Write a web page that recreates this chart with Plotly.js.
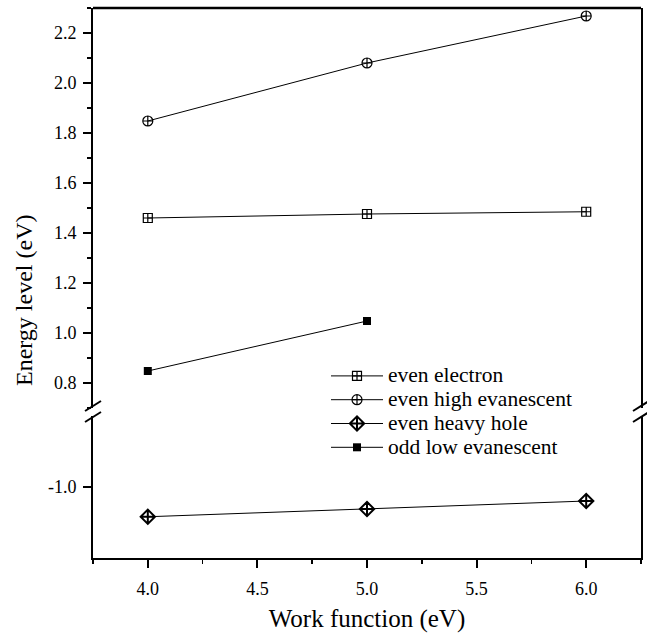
<!DOCTYPE html>
<html>
<head>
<meta charset="utf-8">
<script src="https://cdn.plot.ly/plotly-3.0.1.min.js"></script>
<style>
html,body{margin:0;padding:0;background:#fff;}
#chart{width:647px;height:641px;}
#chart .legendtext{font-size:21.5px !important;}
#chart .legend, #chart .legend *{clip-path:none !important;}
</style>
</head>
<body>
<div id="chart"></div>
<script>
// Data
const workFunction = [4.0, 5.0, 6.0];
const evenElectron = [1.46, 1.476, 1.485];
const evenHighEvanescent = [1.848, 2.08, 2.268];
const evenHeavyHole = [-1.119, -1.088, -1.056];
const oddLowWorkFunction = [4.0, 5.0];
const oddLowEvanescent = [0.848, 1.048];
const upperTicks = [0.8, 1.0, 1.2, 1.4, 1.6, 1.8, 2.0, 2.2];
const lowerTicks = [-1.0];
const xTicks = [4.0, 4.5, 5.0, 5.5, 6.0];

const font = 'Liberation Serif';
const mk = (sym, size, w) => ({symbol: sym, size: size, color: 'black', line: {color: 'black', width: w}});

const traces = [
  {x: workFunction, y: evenElectron, name: 'even electron', mode: 'lines+markers', yaxis: 'y2',
   line: {color: 'black', width: 1}, marker: mk('square-cross-open', 9, 1.2)},
  {x: workFunction, y: evenHighEvanescent, name: 'even high evanescent', mode: 'lines+markers', yaxis: 'y2',
   line: {color: 'black', width: 1}, marker: mk('circle-cross-open', 10, 1.2)},
  {x: workFunction, y: evenHeavyHole, name: 'even heavy hole', mode: 'lines+markers', yaxis: 'y',
   line: {color: 'black', width: 1}, marker: mk('diamond-cross-open', 11, 2)},
  {x: oddLowWorkFunction, y: oddLowEvanescent, name: 'odd low evanescent', mode: 'lines+markers', yaxis: 'y2',
   line: {color: 'black', width: 1}, marker: {symbol: 'square', size: 8, color: 'black'}}
];

// pixel helpers (plot area: x 93..641, y 8..558)
const py = p => (558 - p) / 550;
const px = p => (p - 93) / 548;
const slash = (xc, yc) => ({type: 'line', xref: 'paper', yref: 'paper',
  x0: px(xc - 8), y0: py(yc + 5), x1: px(xc + 8), y1: py(yc - 5), line: {color: 'black', width: 2}});

const layout = {
  width: 647, height: 641,
  margin: {l: 93, r: 6, t: 8, b: 83},
  paper_bgcolor: 'white', plot_bgcolor: 'white',
  showlegend: true,
  font: {family: font, color: 'black', size: 18},
  xaxis: {
    range: [3.75, 6.25], tickvals: xTicks, ticktext: xTicks.map(v => v.toFixed(1)),
    ticks: 'outside', ticklen: 8, tickwidth: 2, tickcolor: 'black', ticklabelstandoff: 5,
    minor: {dtick: 0.25, tick0: 0, ticks: 'outside', ticklen: 4, tickwidth: 1.5, tickcolor: 'black'},
    showline: true, linewidth: 2, linecolor: 'black', showgrid: false, zeroline: false,
    anchor: 'y', tickfont: {size: 18, family: font},
    title: {text: 'Work function (eV)', font: {size: 25, family: font}, standoff: 12}
  },
  yaxis: {
    domain: [0, py(416)], range: [-1.284, -0.716],
    tickvals: lowerTicks, ticktext: ['-1.0'],
    ticks: 'outside', ticklen: 8, tickwidth: 2, tickcolor: 'black', ticklabelstandoff: 3,
    showline: true, mirror: true, linewidth: 2, linecolor: 'black', showgrid: false, zeroline: false,
    tickfont: {size: 18, family: font}
  },
  yaxis2: {
    domain: [py(408), 1], range: [0.7, 2.3],
    tickvals: upperTicks, ticktext: upperTicks.map(v => v.toFixed(1)),
    ticks: 'outside', ticklen: 8, tickwidth: 2, tickcolor: 'black', ticklabelstandoff: 3,
    minor: {dtick: 0.1, tick0: 0, ticks: 'outside', ticklen: 4, tickwidth: 1.5, tickcolor: 'black'},
    showline: true, mirror: true, linewidth: 2, linecolor: 'black', showgrid: false, zeroline: false,
    anchor: 'x', tickfont: {size: 18, family: font}
  },
  legend: {
    x: px(326), y: py(359), xanchor: 'left', yanchor: 'top',
    bgcolor: 'rgba(0,0,0,0)', borderwidth: 0,
    font: {size: 16, family: font}, itemwidth: 52, tracegroupgap: 0
  },
  shapes: [
    {type: 'line', xref: 'paper', yref: 'paper', x0: 0, x1: 1, y0: 1, y1: 1, line: {color: 'black', width: 2.5}},
    slash(93, 406), slash(93, 417), slash(641, 406), slash(641, 417)
  ],
  annotations: [
    {text: 'Energy level (eV)', textangle: -90, xref: 'paper', yref: 'paper',
     x: px(24), y: py(301), xanchor: 'center', yanchor: 'middle', showarrow: false,
     font: {size: 24, family: font}}
  ]
};

Plotly.newPlot('chart', traces, layout, {displayModeBar: false, staticPlot: true});
</script>
</body>
</html>
